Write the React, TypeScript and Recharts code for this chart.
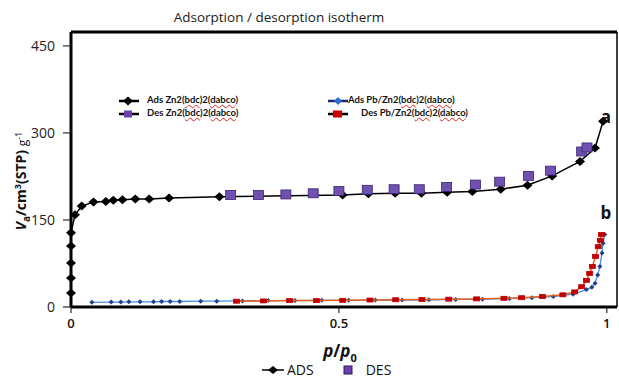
import React from 'react'
import { ScatterChart, Scatter, XAxis, YAxis, ReferenceLine } from 'recharts'

// Ads Zn2(bdc)2(dabco) - black diamonds
const adsZnP = [0, 0, 0, 0, 0, 0.0075, 0.02, 0.042, 0.065, 0.079, 0.096, 0.12, 0.146, 0.183, 0.277, 0.507, 0.555, 0.605, 0.654, 0.702, 0.749, 0.802, 0.852, 0.898, 0.95, 0.978, 0.993]
const adsZnV = [24, 50, 76, 105, 128, 159, 174, 181, 182, 184, 185, 186, 186, 188, 190, 193, 195, 196, 196, 198, 199, 203, 210, 226, 251, 274, 320]

// Des Zn2(bdc)2(dabco) - purple squares
const desZnP = [0.298, 0.35, 0.401, 0.452, 0.5, 0.553, 0.603, 0.65, 0.701, 0.755, 0.8, 0.854, 0.895, 0.953, 0.963]
const desZnV = [193, 193, 194, 196, 200, 202, 203, 203, 207, 211, 216, 226, 235, 268, 275]

// Ads Pb/Zn2(bdc)2(dabco) - blue
const adsPbP = [0.039, 0.075, 0.093, 0.108, 0.129, 0.154, 0.169, 0.185, 0.203, 0.242, 0.272, 0.32, 0.368, 0.418, 0.468, 0.518, 0.568, 0.618, 0.668, 0.718, 0.768, 0.818, 0.86, 0.9, 0.937, 0.962, 0.972, 0.978, 0.983, 0.987, 0.991, 0.993, 0.996]
const adsPbV = [8, 8.5, 8.5, 9, 9, 9, 9.5, 9.5, 9.5, 10, 10, 10.5, 11, 11, 11.5, 11.5, 12, 12, 12.5, 13, 13.5, 14.5, 16, 18, 22, 30, 34, 41, 55, 70, 93, 110, 125]

// Des Pb/Zn2(bdc)2(dabco) - red
const desPbP = [0.309, 0.359, 0.408, 0.458, 0.507, 0.558, 0.606, 0.655, 0.705, 0.757, 0.808, 0.841, 0.88, 0.918, 0.94, 0.953, 0.962, 0.968, 0.973, 0.979, 0.984, 0.988, 0.99]
const desPbV = [10, 10.5, 11, 11, 11.5, 12, 12.5, 13, 13.5, 14, 15, 16, 18, 21, 26, 35, 46, 58, 70, 87, 104, 115, 125]

const xTicks = [0, 0.5, 1]
const yTicks = [0, 150, 300, 450]

const zip = (p: number[], v: number[]) => p.map((x, i) => ({ p: x, v: v[i] }))

const adsZn = zip(adsZnP, adsZnV)
const desZn = zip(desZnP, desZnV)
const adsPb = zip(adsPbP, adsPbV)
const desPb = zip(desPbP, desPbV)

const diamond = (w: number, h: number, fill: string) => (props: any) => {
  const { cx, cy } = props
  return <polygon points={`${cx - w},${cy} ${cx},${cy - h} ${cx + w},${cy} ${cx},${cy + h}`} fill={fill} />
}

const square = (w: number, h: number, fill: string, stroke: string) => (props: any) => {
  const { cx, cy } = props
  return <rect x={cx - w / 2} y={cy - h / 2} width={w} height={h} fill={fill} stroke={stroke} strokeWidth={0.8} />
}

const font = '"Open Sans", sans-serif'
const wavy = { textDecoration: 'underline wavy #e02020', textDecorationThickness: 1 } as React.CSSProperties

const Chem = ({ pre }: { pre: string }) => (
  <span>
    {pre}Zn2(<span style={wavy}>bdc</span>)2(<span style={wavy}>dabco</span>)
  </span>
)

const LegMark = ({ line, children }: { line: string; children: React.ReactNode }) => (
  <svg width={20} height={10} style={{ verticalAlign: 'middle' }}>
    <line x1={0} y1={5} x2={20} y2={5} stroke={line} strokeWidth={2.5} />
    {children}
  </svg>
)

export default function App() {
  return (
    <div style={{ position: 'fixed', left: 0, top: 0, width: 619, height: 378, background: '#fff', fontFamily: font, overflow: 'hidden' }}>
      <ScatterChart width={619} height={378} margin={{ top: 32, right: 2, left: 0, bottom: 41 }}>
        <XAxis
          dataKey="p"
          type="number"
          domain={[0, 1.019]}
          ticks={xTicks}
          height={30}
          tickSize={6}
          tickMargin={6}
          axisLine={{ stroke: '#000', strokeWidth: 3 }}
          tickLine={{ stroke: '#000' }}
          tick={{ fill: '#111', fontSize: 13, fontWeight: 600, fontFamily: font }}
        />
        <YAxis
          dataKey="v"
          type="number"
          domain={[0, 474]}
          ticks={yTicks}
          width={71}
          tickSize={8}
          tickMargin={8}
          axisLine={{ stroke: '#000', strokeWidth: 3 }}
          tickLine={{ stroke: '#000' }}
          tick={{ fill: '#222', fontSize: 14, fontFamily: font }}
        />
        <ReferenceLine y={474} stroke="#000" strokeWidth={3} />
        <ReferenceLine x={1.019} stroke="#000" strokeWidth={1.5} />
        <Scatter data={adsPb} line={{ stroke: '#4a90d9', strokeWidth: 1.3 }} lineType="joint" shape={diamond(2.5, 2.5, '#1f3f8f')} isAnimationActive={false} />
        <Scatter data={desPb} line={{ stroke: '#e8601a', strokeWidth: 1.5 }} lineType="joint" shape={square(6, 4, '#c00000', '#c00000')} isAnimationActive={false} />
        <Scatter data={adsZn} line={{ stroke: '#000', strokeWidth: 1.5 }} lineType="joint" shape={diamond(5, 4.5, '#000')} isAnimationActive={false} />
        <Scatter data={desZn} shape={square(10, 9, '#7050b0', '#3a2470')} isAnimationActive={false} />
      </ScatterChart>

      <div style={{ position: 'absolute', left: 279, top: 17, transform: 'translate(-50%,-50%)', fontSize: 13.5, color: '#1a1a1a', whiteSpace: 'nowrap' }}>
        Adsorption / desorption isotherm
      </div>

      <div style={{ position: 'absolute', left: 22, top: 181, transform: 'translate(-50%,-50%) rotate(-90deg)', whiteSpace: 'nowrap', fontSize: 14, fontWeight: 700, color: '#111' }}>
        <i>V</i><sub style={{ fontSize: 10 }}>a</sub>/cm<sup style={{ fontSize: 9 }}>3</sup>(STP) <span style={{ fontWeight: 400, fontSize: 12 }}>g<sup style={{ fontSize: 9 }}>-1</sup></span>
      </div>

      <div style={{ position: 'absolute', left: 340, top: 352, transform: 'translate(-50%,-50%)', whiteSpace: 'nowrap', fontSize: 17, fontWeight: 700, color: '#111' }}>
        <i>p</i>/<i>p</i><sub style={{ fontSize: 11 }}>0</sub>
      </div>

      <div style={{ position: 'absolute', left: 606, top: 116, transform: 'translate(-50%,-50%)', fontSize: 17, fontWeight: 700, color: '#111' }}>a</div>
      <div style={{ position: 'absolute', left: 606, top: 212, transform: 'translate(-50%,-50%)', fontSize: 17, fontWeight: 700, color: '#111' }}>b</div>

      {/* inner legend */}
      <div style={{ position: 'absolute', left: 119, top: 93, fontFamily: 'Lato, sans-serif', fontSize: 9.5, fontWeight: 700, color: '#111', lineHeight: '13px', whiteSpace: 'nowrap' }}>
        <div>
          <LegMark line="#000"><polygon points="4,5 9,0.5 14,5 9,9.5" fill="#000" /></LegMark>
          <span style={{ marginLeft: 8 }}><Chem pre="Ads " /></span>
        </div>
        <div>
          <LegMark line="#000"><rect x={5} y={1.5} width={8} height={7} fill="#6a40b0" /></LegMark>
          <span style={{ marginLeft: 8 }}><Chem pre="Des " /></span>
        </div>
      </div>
      <div style={{ position: 'absolute', left: 328, top: 93, fontFamily: 'Lato, sans-serif', fontSize: 9.5, fontWeight: 700, color: '#111', lineHeight: '13px', whiteSpace: 'nowrap' }}>
        <div>
          <LegMark line="#1a2a6a"><polygon points="6,5 10,1 14,5 10,9" fill="#2a70d0" /></LegMark>
          <span><Chem pre="Ads Pb/" /></span>
        </div>
        <div>
          <LegMark line="#000"><rect x={5} y={1.5} width={9} height={7} fill="#d00000" /></LegMark>
          <span style={{ marginLeft: 13 }}><Chem pre="Des Pb/" /></span>
        </div>
      </div>

      {/* bottom legend */}
      <div style={{ position: 'absolute', left: 262, top: 362, height: 16, lineHeight: '16px', display: 'flex', alignItems: 'center', fontSize: 14, color: '#111', whiteSpace: 'nowrap' }}>
        <svg width={22} height={10}>
          <line x1={0} y1={5} x2={22} y2={5} stroke="#000" strokeWidth={1.5} />
          <polygon points="6,5 11,1 16,5 11,9" fill="#000" />
        </svg>
        <span style={{ marginLeft: 3 }}>ADS</span>
        <svg width={10} height={10} style={{ marginLeft: 29 }}>
          <rect x={1} y={1} width={8} height={8} fill="#6a40b0" stroke="#2a1a60" strokeWidth={1} />
        </svg>
        <span style={{ marginLeft: 13 }}>DES</span>
      </div>
    </div>
  )
}
